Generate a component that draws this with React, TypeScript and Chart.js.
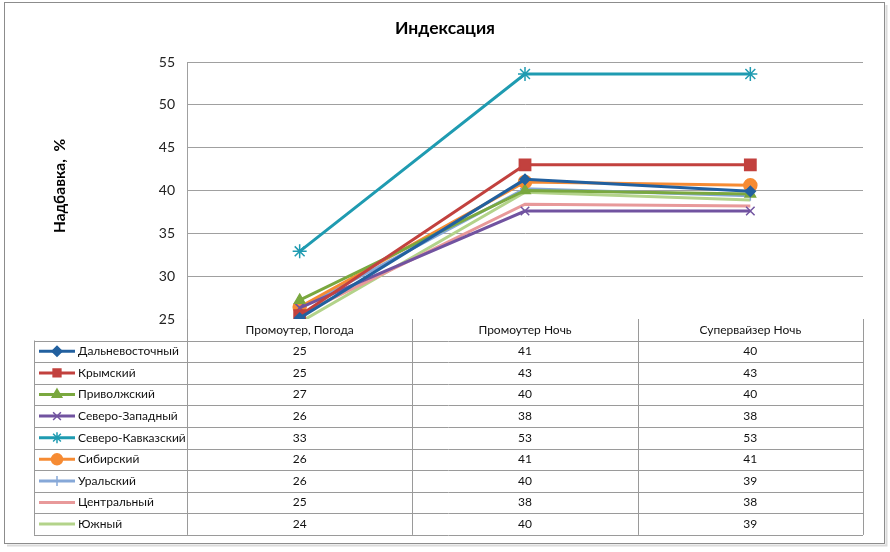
import React, { useEffect, useRef } from "react";
import { Chart, registerables } from "chart.js";
import { drawPoint } from "chart.js/helpers";

Chart.register(...registerables);

// ---------- DATA ----------
const categories = ["Промоутер, Погода", "Промоутер Ночь", "Супервайзер Ночь"];
const seriesNames = [
  "Дальневосточный",
  "Крымский",
  "Приволжский",
  "Северо-Западный",
  "Северо-Кавказский",
  "Сибирский",
  "Уральский",
  "Центральный",
  "Южный",
];
// plotted values
const dalnevostochny = [25.1, 41.3, 39.9];
const krymsky = [25.4, 43.0, 43.0];
const privolzhsky = [27.2, 40.0, 39.6];
const severoZapadny = [26.3, 37.6, 37.6];
const severoKavkazsky = [32.9, 53.6, 53.6];
const sibirsky = [26.4, 41.0, 40.6];
const uralsky = [26.2, 40.2, 39.4];
const centralny = [25.5, 38.4, 38.2];
const yuzhny = [24.6, 39.8, 38.9];
// values shown in the data table
const tableDalnevostochny = [25, 41, 40];
const tableKrymsky = [25, 43, 43];
const tablePrivolzhsky = [27, 40, 40];
const tableSeveroZapadny = [26, 38, 38];
const tableSeveroKavkazsky = [33, 53, 53];
const tableSibirsky = [26, 41, 41];
const tableUralsky = [26, 40, 39];
const tableCentralny = [25, 38, 38];
const tableYuzhny = [24, 40, 39];
const yTickMin = 25;
const yTickMax = 55;
const yTickStep = 5;
const chartTitle = "Индексация";
const yTitle = "Надбавка,  %";

const seriesValues = [
  dalnevostochny, krymsky, privolzhsky, severoZapadny, severoKavkazsky,
  sibirsky, uralsky, centralny, yuzhny,
];
const tableValues = [
  tableDalnevostochny, tableKrymsky, tablePrivolzhsky, tableSeveroZapadny,
  tableSeveroKavkazsky, tableSibirsky, tableUralsky, tableCentralny, tableYuzhny,
];
const colors = [
  "#22609F", "#C2413E", "#7AA83F", "#7153A0", "#1F9BB1",
  "#F68B33", "#86A8D8", "#E8999A", "#B3D38A",
];
const pointStyles: any[] = [
  "rectRot", "rect", "triangle", "crossRot", "star", "circle", "cross", false, false,
];
const pointRadii = [5, 8, 6, 6, 7, 6.5, 5, 0, 0];

const FONT = "Lato, 'Open Sans', 'Liberation Sans', sans-serif";

export default function App() {
  const ref = useRef<HTMLCanvasElement | null>(null);

  useEffect(() => {
    if (!ref.current) return;
    const TABLE_LEFT = 34;
    const HEADER_TOP = 319;
    const ROWS_TOP = 340.5;
    const ROW_H = 21.6;
    const lineGray = "#9A9A9A";

    const decor = {
      id: "decor",
      beforeDraw(chart: any) {
        const c = chart.ctx;
        c.save();
        c.fillStyle = "#ffffff";
        c.fillRect(0, 0, chart.width, chart.height);
        // shadow + frame
        c.strokeStyle = "#DADADA";
        c.lineWidth = 2;
        c.beginPath();
        c.moveTo(886.5, 5);
        c.lineTo(886.5, 545.5);
        c.lineTo(7, 545.5);
        c.stroke();
        c.strokeStyle = "#8C8C8C";
        c.lineWidth = 1;
        c.strokeRect(4.5, 2.5, 880, 541);
        c.restore();
      },
      afterDraw(chart: any) {
        const c = chart.ctx;
        const xs = chart.scales.x;
        const area = chart.chartArea;
        c.save();
        // title
        c.fillStyle = "#000";
        c.font = `bold 17.5px ${FONT}`;
        c.textAlign = "center";
        c.textBaseline = "middle";
        c.fillText(chartTitle, 445, 28);
        // y title
        c.save();
        c.translate(60, 186);
        c.rotate(-Math.PI / 2);
        c.font = `bold 15.5px ${FONT}`;
        c.fillText(yTitle, 0, 0);
        c.restore();

        const n = categories.length;
        const cw = (area.right - area.left) / n;
        const bounds: number[] = [];
        for (let i = 0; i <= n; i++) bounds.push(area.left + cw * i);
        const rows = seriesNames.length;
        const bottom = ROWS_TOP + ROW_H * rows;

        // table lines
        c.strokeStyle = lineGray;
        c.lineWidth = 1;
        c.beginPath();
        for (let r = 0; r <= rows; r++) {
          const y = Math.round(ROWS_TOP + ROW_H * r) + 0.5;
          c.moveTo(TABLE_LEFT, y);
          c.lineTo(area.right, y);
        }
        c.moveTo(TABLE_LEFT + 0.5, ROWS_TOP);
        c.lineTo(TABLE_LEFT + 0.5, bottom);
        for (let i = 0; i <= n; i++) {
          const x = Math.round(bounds[i]) + 0.5;
          c.moveTo(x, HEADER_TOP);
          c.lineTo(x, bottom);
        }
        c.stroke();

        // header labels
        c.fillStyle = "#111";
        c.font = `12px ${FONT}`;
        c.textAlign = "center";
        c.textBaseline = "middle";
        for (let i = 0; i < n; i++) {
          c.fillText(categories[i], xs.getPixelForValue(i), 330);
        }
        // rows
        for (let r = 0; r < rows; r++) {
          const yc = ROWS_TOP + ROW_H * (r + 0.5);
          // legend key
          c.strokeStyle = colors[r];
          c.lineWidth = 3;
          c.beginPath();
          c.moveTo(39, yc);
          c.lineTo(75, yc);
          c.stroke();
          if (pointStyles[r]) {
            c.fillStyle = colors[r];
            c.strokeStyle = colors[r];
            c.lineWidth = 1.5;
            drawPoint(c, { pointStyle: pointStyles[r], rotation: 0, radius: Math.min(pointRadii[r], 5.5), borderWidth: 1.5 } as any, 57, yc);
          }
          c.fillStyle = "#111";
          c.font = `12px ${FONT}`;
          c.textAlign = "left";
          c.fillText(seriesNames[r], 78, yc);
          c.textAlign = "center";
          for (let i = 0; i < n; i++) {
            c.fillText(String(tableValues[r][i]), xs.getPixelForValue(i), yc);
          }
        }
        c.restore();
      },
    };

    const chart = new Chart(ref.current, {
      type: "line",
      data: {
        labels: categories,
        datasets: seriesNames.map((name, i) => ({
          label: name,
          data: seriesValues[i],
          borderColor: colors[i],
          backgroundColor: colors[i],
          borderWidth: 3,
          pointStyle: pointStyles[i],
          pointRadius: pointRadii[i],
          pointBorderWidth: 1.5,
          pointBackgroundColor: colors[i],
          pointBorderColor: colors[i],
          tension: 0,
        })),
      },
      options: {
        animation: false,
        responsive: false,
        maintainAspectRatio: false,
        layout: { padding: { left: 0, right: 27, top: 62, bottom: 233 } },
        plugins: {
          legend: { display: false },
          title: { display: false },
          tooltip: { enabled: false },
        },
        scales: {
          x: {
            display: false,
            offset: true,
          },
          y: {
            min: yTickMin,
            max: yTickMax,
            afterFit: (s: any) => {
              s.width = 187;
            },
            ticks: {
              stepSize: yTickStep,
              padding: 12,
              color: "#222",
              font: { family: FONT, size: 14 },
            },
            grid: {
              drawTicks: false,
              color: (ctx: any) => (ctx.tick && ctx.tick.value === yTickMin ? "rgba(0,0,0,0)" : "#A0A0A0"),
              lineWidth: 1,
            },
            border: { display: true, color: "#A0A0A0", width: 1 },
          },
        },
      } as any,
      plugins: [decor],
    });
    return () => chart.destroy();
  }, []);

  return (
    <div style={{ position: "fixed", left: 0, top: 0, width: 890, height: 552, background: "#fff" }}>
      <canvas ref={ref} width={890} height={552} style={{ width: 890, height: 552, display: "block" }} />
    </div>
  );
}
